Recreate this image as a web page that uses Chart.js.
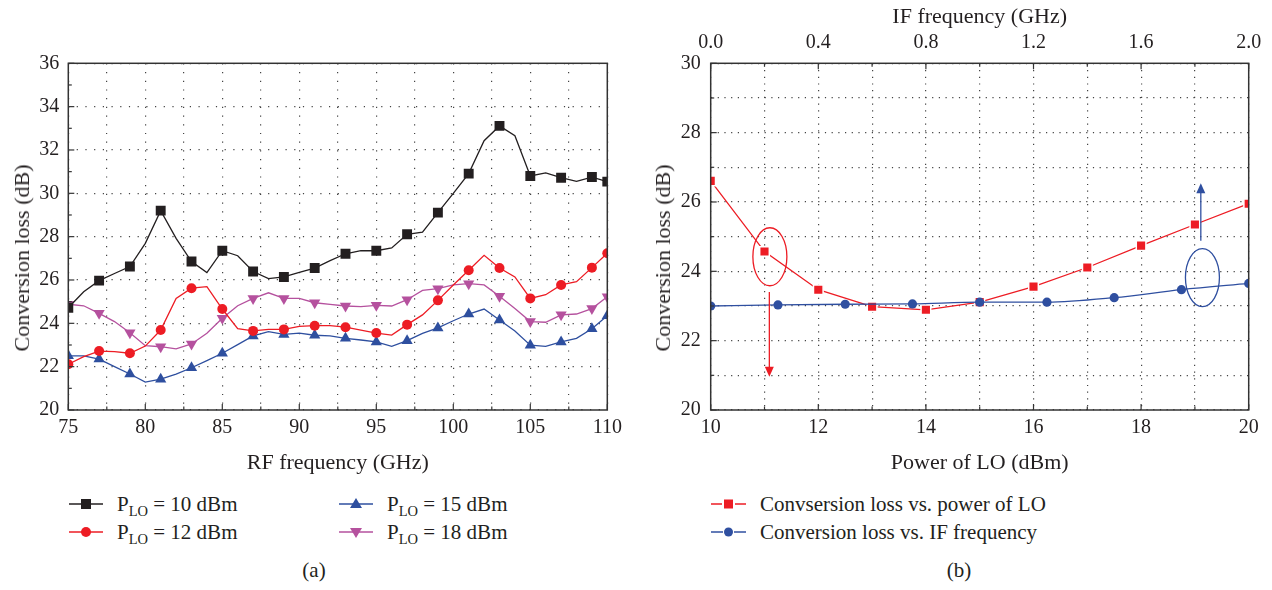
<!DOCTYPE html>
<html>
<head>
<meta charset="utf-8">
<script src="https://cdn.jsdelivr.net/npm/chart.js@4.4.1/dist/chart.umd.min.js"></script>
<style>
  body { margin: 0; background: #fff; }
  #wrap { position: relative; width: 1272px; height: 590px; font-family: 'Liberation Serif', 'DejaVu Serif', serif; color: #231f20; }
  .box { position: absolute; top: 0; width: 636px; height: 480px; }
  .ytitle { position: absolute; font-size: 22px; white-space: nowrap; transform: translate(-50%, -50%) rotate(-90deg); }
  .item { position: absolute; display: flex; align-items: center; height: 24px; font-size: 21px; white-space: nowrap; }
  .item span { margin-left: 14px; }
  .item sub { font-size: 14.5px; vertical-align: -5px; line-height: 0; }
  .cap { position: absolute; width: 40px; text-align: center; font-size: 21px; top: 558px; }
</style>
</head>
<body>
<div id="wrap">
  <div class="box" style="left:0"><canvas id="chartA" width="636" height="480"></canvas></div>
  <div class="box" style="left:636px"><canvas id="chartB" width="636" height="480"></canvas></div>

  <div class="ytitle" style="left:22px; top:258px">Conversion loss (dB)</div>
  <div class="ytitle" style="left:663px; top:258px">Conversion loss (dB)</div>

  <!-- legend (a) -->
  <div class="item" style="left:69px; top:492px">
    <svg width="34" height="24"><line x1="0" y1="12" x2="34" y2="12" stroke="#231f20" stroke-width="1.5"/><rect x="12" y="7" width="10" height="10" fill="#231f20"/></svg>
    <span>P<sub>LO</sub> = 10 dBm</span>
  </div>
  <div class="item" style="left:69px; top:520px">
    <svg width="34" height="24"><line x1="0" y1="12" x2="34" y2="12" stroke="#ed1c24" stroke-width="1.5"/><circle cx="17" cy="12" r="5" fill="#ed1c24"/></svg>
    <span>P<sub>LO</sub> = 12 dBm</span>
  </div>
  <div class="item" style="left:339px; top:492px">
    <svg width="34" height="24"><line x1="0" y1="12" x2="34" y2="12" stroke="#2e4f9f" stroke-width="1.5"/><polygon points="17,6 23,16 11,16" fill="#2e4f9f"/></svg>
    <span>P<sub>LO</sub> = 15 dBm</span>
  </div>
  <div class="item" style="left:339px; top:520px">
    <svg width="34" height="24"><line x1="0" y1="12" x2="34" y2="12" stroke="#b5519e" stroke-width="1.5"/><polygon points="11,8 23,8 17,18" fill="#b5519e"/></svg>
    <span>P<sub>LO</sub> = 18 dBm</span>
  </div>

  <!-- legend (b) -->
  <div class="item" style="left:711px; top:492px">
    <svg width="35" height="24"><line x1="0" y1="12" x2="11" y2="12" stroke="#ed1c24" stroke-width="1.5"/><line x1="24" y1="12" x2="35" y2="12" stroke="#ed1c24" stroke-width="1.5"/><rect x="13" y="7.5" width="9" height="9" fill="#ed1c24"/></svg>
    <span>Convsersion loss vs. power of LO</span>
  </div>
  <div class="item" style="left:711px; top:520px">
    <svg width="35" height="24"><line x1="0" y1="12" x2="12" y2="12" stroke="#2f4fa0" stroke-width="1.5"/><line x1="23" y1="12" x2="35" y2="12" stroke="#2f4fa0" stroke-width="1.5"/><circle cx="17.5" cy="12" r="4.5" fill="#2f4fa0"/></svg>
    <span>Conversion loss vs. IF frequency</span>
  </div>

  <div class="cap" style="left:294px">(a)</div>
  <div class="cap" style="left:939px">(b)</div>
</div>

<script>
// (a) conversion loss against RF frequency for four LO powers
const rfFreq = [75, 76, 77, 78, 79, 80, 81, 82, 83, 84, 85, 86, 87, 88, 89, 90, 91, 92,
    93, 94, 95, 96, 97, 98, 99, 100, 101, 102, 103, 104, 105, 106, 107, 108, 109, 110];
const loss10 = [24.72, 25.46, 25.97, 26.3, 26.62, 27.69, 29.2, 27.92, 26.85, 26.34, 27.35, 27.12,
    26.39, 26.06, 26.14, 26.35, 26.55, 26.89, 27.21, 27.35, 27.35, 27.48, 28.11, 28.21,
    29.11, 30.0, 30.91, 32.43, 33.11, 32.66, 30.8, 30.94, 30.72, 30.55, 30.75, 30.54];
const loss12 = [22.11, 22.46, 22.72, 22.69, 22.62, 22.95, 23.69, 25.15, 25.62, 25.69, 24.66, 23.75,
    23.65, 23.72, 23.72, 23.86, 23.89, 23.89, 23.82, 23.69, 23.55, 23.46, 23.94, 24.39,
    25.06, 25.77, 26.45, 27.14, 26.55, 26.14, 25.15, 25.32, 25.77, 25.92, 26.57, 27.23];
const loss15 = [22.5, 22.5, 22.35, 22.0, 21.66, 21.29, 21.42, 21.66, 21.95, 22.28, 22.62, 23.02,
    23.42, 23.62, 23.49, 23.55, 23.45, 23.42, 23.31, 23.23, 23.14, 22.94, 23.2, 23.54,
    23.79, 24.12, 24.43, 24.66, 24.15, 23.65, 22.99, 22.94, 23.14, 23.31, 23.75, 24.35];
const loss18 = [24.88, 24.81, 24.46, 24.08, 23.57, 22.97, 22.92, 22.82, 23.05, 23.54, 24.23, 24.81,
    25.15, 25.41, 25.15, 25.15, 24.95, 24.87, 24.8, 24.77, 24.83, 24.8, 25.09, 25.52,
    25.6, 25.77, 25.83, 25.77, 25.25, 24.68, 24.08, 24.05, 24.39, 24.43, 24.68, 25.23];

// (b) conversion loss against LO power and against IF frequency
const loPower = [10, 11, 12, 13, 14, 15, 16, 17, 18, 19, 20];
const lossVsLO = [26.61, 24.57, 23.47, 22.98, 22.89, 23.11, 23.56, 24.11, 24.74, 25.35, 25.95];
const ifFreq = [0, 0.25, 0.5, 0.75, 1.0, 1.25, 1.5, 1.75, 2.0];
const lossVsIF = [23.0, 23.03, 23.05, 23.06, 23.11, 23.11, 23.24, 23.47, 23.65];

// ellipse + arrow marks in panel (b), in axis units
const loops = [
    { x: 11.1, y: 24.42, arrowX: 11.09, from: 23.4, to: 20.96, color: '#ed1c24' },
    { x: 19.14, y: 23.82, arrowX: 19.11, from: 24.88, to: 26.54, color: '#2f4fa0' }
];

const ink = '#231f20';
const serif = "'Liberation Serif', 'DejaVu Serif', serif";
Chart.defaults.font.family = serif;
Chart.defaults.font.size = 20;
Chart.defaults.color = ink;

function pairs(xs, ys) {
    return xs.map((x, i) => ({ x: x, y: ys[i] }));
}

// markers only on every second point (odd GHz) and at the last one
function everyOther(r) {
    return ctx => (ctx.dataIndex % 2 === 0 || ctx.dataIndex === rfFreq.length - 1) ? r : 0;
}

function onMultiple(v, step) {
    return Math.abs(v / step - Math.round(v / step)) < 1e-6;
}

// box round the plot and ticks pointing inwards
const frameTicks = {
    id: 'frameTicks',
    afterDraw(chart, args, opts) {
        const { ctx, chartArea: a } = chart;
        ctx.save();
        ctx.strokeStyle = '#333';
        ctx.lineWidth = 1.5;
        ctx.strokeRect(a.left, a.top, a.right - a.left, a.bottom - a.top);
        ctx.lineWidth = 1.2;
        (opts.marks || []).forEach(m => {
            const s = chart.scales[m.scale];
            const n = Math.round((s.max - s.min) / m.step);
            for (let i = 0; i <= n; i++) {
                const p = s.getPixelForValue(s.min + i * m.step);
                const len = i % 2 === 0 ? 6 : 3.5;
                ctx.beginPath();
                if (m.edge === 'left') { ctx.moveTo(a.left, p); ctx.lineTo(a.left + len, p); }
                if (m.edge === 'bottom') { ctx.moveTo(p, a.bottom); ctx.lineTo(p, a.bottom - len); }
                if (m.edge === 'top') { ctx.moveTo(p, a.top); ctx.lineTo(p, a.top + len); }
                ctx.stroke();
            }
        });
        ctx.restore();
    }
};

const loopArrows = {
    id: 'loopArrows',
    afterDraw(chart) {
        const { ctx } = chart;
        const sx = chart.scales.x, sy = chart.scales.y;
        ctx.save();
        ctx.lineWidth = 1.3;
        loops.forEach(l => {
            ctx.strokeStyle = l.color;
            ctx.fillStyle = l.color;
            ctx.beginPath();
            ctx.ellipse(sx.getPixelForValue(l.x), sy.getPixelForValue(l.y), 17, 29, 0, 0, 2 * Math.PI);
            ctx.stroke();
            const ax = sx.getPixelForValue(l.arrowX);
            const y0 = sy.getPixelForValue(l.from), y1 = sy.getPixelForValue(l.to);
            const dir = Math.sign(y1 - y0);
            ctx.beginPath();
            ctx.moveTo(ax, y0);
            ctx.lineTo(ax, y1 - dir * 8);
            ctx.stroke();
            ctx.beginPath();
            ctx.moveTo(ax, y1);
            ctx.lineTo(ax - 4.5, y1 - dir * 10);
            ctx.lineTo(ax + 4.5, y1 - dir * 10);
            ctx.closePath();
            ctx.fill();
        });
        ctx.restore();
    }
};

const titleFont = { family: serif, size: 22 };

// Panel (a)
new Chart(document.getElementById('chartA'), {
    type: 'line',
    data: {
        datasets: [
            { data: pairs(rfFreq, loss10), borderColor: ink, backgroundColor: ink, pointStyle: 'rect', pointRadius: everyOther(7) },
            { data: pairs(rfFreq, loss12), borderColor: '#ed1c24', backgroundColor: '#ed1c24', pointStyle: 'circle', pointRadius: everyOther(5) },
            { data: pairs(rfFreq, loss15), borderColor: '#2e4f9f', backgroundColor: '#2e4f9f', pointStyle: 'triangle', pointRadius: everyOther(6.5) },
            { data: pairs(rfFreq, loss18), borderColor: '#b5519e', backgroundColor: '#b5519e', pointStyle: 'triangle', rotation: 180, pointRadius: everyOther(6.5) }
        ]
    },
    options: {
        responsive: false,
        animation: false,
        layout: { padding: { top: 63.3, right: 28.7, bottom: 0, left: 0 } },
        elements: {
            line: { borderWidth: 1.3, tension: 0 },
            point: { borderWidth: 0, hoverRadius: 0 }
        },
        datasets: { line: { clip: 0 } },
        plugins: {
            legend: { display: false },
            tooltip: { enabled: false },
            frameTicks: {
                marks: [
                    { scale: 'y', edge: 'left', step: 1 },
                    { scale: 'x', edge: 'bottom', step: 2.5 }
                ]
            }
        },
        scales: {
            x: {
                type: 'linear', min: 75, max: 110,
                afterFit: s => { s.height = 70; },
                ticks: { stepSize: 2.5, autoSkip: false, maxRotation: 0, padding: 6,
                    callback: v => onMultiple(v, 5) ? v : '' },
                grid: { color: '#444', lineWidth: 1.2, drawTicks: false },
                border: { display: false, dash: [1.2, 7.5] },
                title: { display: true, text: 'RF frequency (GHz)', font: titleFont, padding: { top: 0, bottom: 4 } }
            },
            y: {
                min: 20, max: 36,
                afterFit: s => { s.width = 68.3; },
                ticks: { stepSize: 2, padding: 9 },
                grid: { color: '#444', lineWidth: 1.2, drawTicks: false },
                border: { display: false, dash: [1.2, 7.5] }
            }
        }
    },
    plugins: [frameTicks]
});

// Panel (b)
new Chart(document.getElementById('chartB'), {
    type: 'line',
    data: {
        datasets: [
            { data: pairs(loPower, lossVsLO), order: 1, borderColor: '#ed1c24', backgroundColor: '#ed1c24',
              pointStyle: 'rect', pointRadius: 6.8, pointBorderColor: '#fff', pointBorderWidth: 1.5, xAxisID: 'x' },
            { data: pairs(ifFreq, lossVsIF), order: 0, borderColor: '#2f4fa0', backgroundColor: '#2f4fa0',
              pointStyle: 'circle', pointRadius: 4.6, pointBorderWidth: 0, tension: 0.3,
              cubicInterpolationMode: 'monotone', xAxisID: 'x2' }
        ]
    },
    options: {
        responsive: false,
        animation: false,
        layout: { padding: { top: 0, right: 23.3, bottom: 0, left: 0 } },
        elements: {
            line: { borderWidth: 1.3 },
            point: { hoverRadius: 0 }
        },
        datasets: { line: { clip: 0 } },
        plugins: {
            legend: { display: false },
            tooltip: { enabled: false },
            frameTicks: {
                marks: [
                    { scale: 'y', edge: 'left', step: 1 },
                    { scale: 'x', edge: 'bottom', step: 1 },
                    { scale: 'x2', edge: 'top', step: 0.2 }
                ]
            }
        },
        scales: {
            x: {
                type: 'linear', position: 'bottom', min: 10, max: 20,
                afterFit: s => { s.height = 70; },
                ticks: { stepSize: 1, autoSkip: false, maxRotation: 0, padding: 6,
                    callback: v => onMultiple(v, 2) ? v : '' },
                grid: { color: '#444', lineWidth: 1.2, drawTicks: false },
                border: { display: false, dash: [1.2, 5.5] },
                title: { display: true, text: 'Power of LO (dBm)', font: titleFont, padding: { top: 0, bottom: 4 } }
            },
            x2: {
                type: 'linear', position: 'top', min: 0, max: 2,
                afterFit: s => { s.height = 63.3; },
                ticks: { stepSize: 0.2, autoSkip: false, maxRotation: 0, padding: 9,
                    callback: v => onMultiple(v, 0.4) ? v.toFixed(1) : '' },
                grid: { display: false, drawTicks: false },
                border: { display: false },
                title: { display: true, text: 'IF frequency (GHz)', font: titleFont, padding: { top: 4, bottom: 0 } }
            },
            y: {
                min: 20, max: 30,
                afterFit: s => { s.width = 74.7; },
                ticks: { stepSize: 1, padding: 10, callback: v => onMultiple(v, 2) ? v : '' },
                grid: { color: '#444', lineWidth: 1.2, drawTicks: false },
                border: { display: false, dash: [1.2, 5.5] }
            }
        }
    },
    plugins: [frameTicks, loopArrows]
});
</script>
</body>
</html>
